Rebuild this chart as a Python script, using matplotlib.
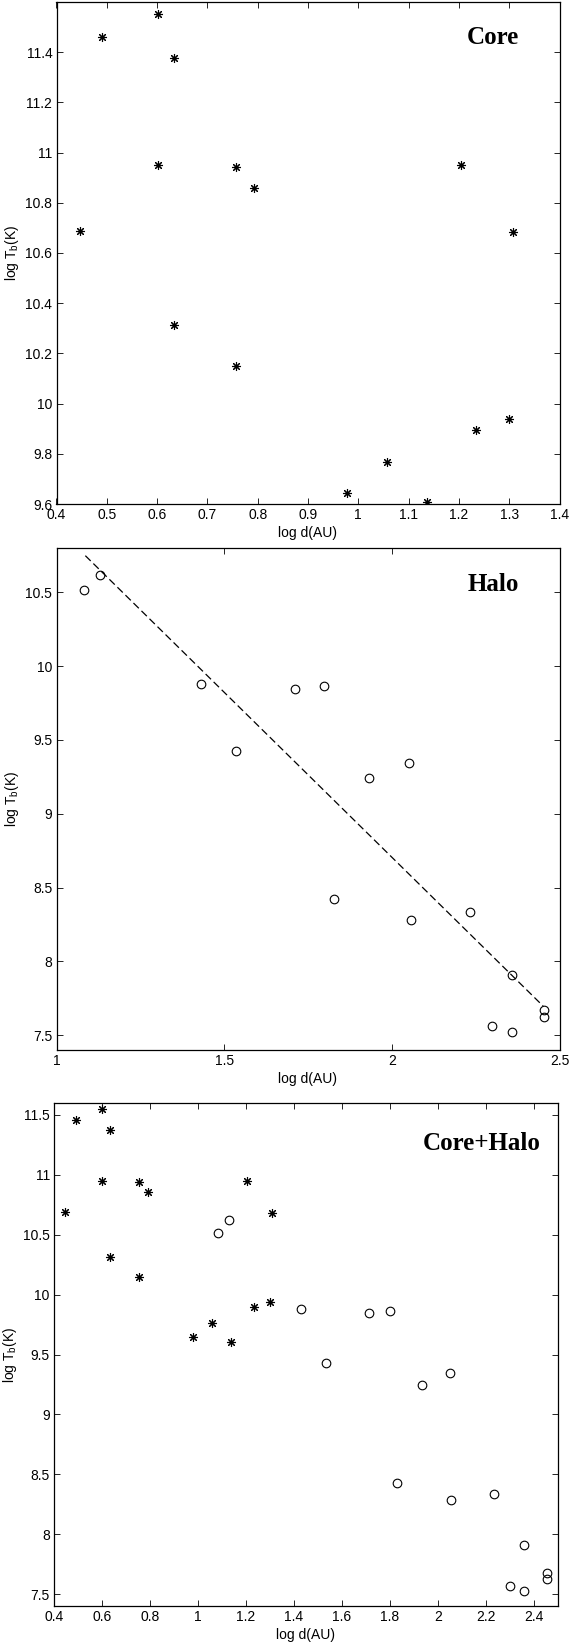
import matplotlib
matplotlib.use("Agg")
import matplotlib.pyplot as plt
import numpy as np

# ---------------- data ----------------
core_logd = [0.447, 0.491, 0.602, 0.633, 0.602, 0.756, 0.792, 1.204, 1.307,
             0.633, 0.756, 0.978, 1.057, 1.137, 1.234, 1.300]
core_logT = [10.688, 11.462, 11.553, 11.375, 10.951, 10.944, 10.858, 10.951, 10.683,
             10.314, 10.148, 9.642, 9.767, 9.607, 9.893, 9.937]

halo_logd = [1.083, 1.129, 1.431, 1.534, 1.711, 1.798, 1.933, 2.050, 1.829,
             2.056, 2.234, 2.300, 2.359, 2.359, 2.455, 2.455]
halo_logT = [10.518, 10.619, 9.876, 9.426, 9.847, 9.863, 9.243, 9.342, 8.426,
             8.283, 8.337, 7.564, 7.909, 7.523, 7.674, 7.625]

fit_logd = [1.086, 2.451]
fit_logT = [10.748, 7.698]

panel_titles = ["Core", "Halo", "Core+Halo"]
xlabel = "log d(AU)"
ylabel = r"log T$_\mathregular{b}$(K)"

core_xticks = [0.4, 0.5, 0.6, 0.7, 0.8, 0.9, 1.0, 1.1, 1.2, 1.3, 1.4]
core_yticks = [9.6, 9.8, 10.0, 10.2, 10.4, 10.6, 10.8, 11.0, 11.2, 11.4]
halo_xticks = [1.0, 1.5, 2.0, 2.5]
halo_yticks = [7.5, 8.0, 8.5, 9.0, 9.5, 10.0, 10.5]
both_xticks = [0.4, 0.6, 0.8, 1.0, 1.2, 1.4, 1.6, 1.8, 2.0, 2.2, 2.4]
both_yticks = [7.5, 8.0, 8.5, 9.0, 9.5, 10.0, 10.5, 11.0, 11.5]

# ---------------- style ----------------
plt.rcParams['font.family'] = ['Liberation Sans', 'DejaVu Sans']
plt.rcParams['mathtext.fontset'] = 'custom'
plt.rcParams['mathtext.rm'] = 'Liberation Sans'

W, H = 571, 1648
fig = plt.figure(figsize=(W / 100, H / 100), dpi=100)

def rect(left, right, top, bottom):
    return [left / W, (H - bottom) / H, (right - left) / W, (bottom - top) / H]

ax1 = fig.add_axes(rect(56.5, 559.5, 2, 504))
ax2 = fig.add_axes(rect(56.5, 559.5, 548, 1050))
ax3 = fig.add_axes(rect(54, 558, 1103, 1606))

AST = (8, 2, 0)
FS = 10

def fmt(v):
    s = ("%.1f" % v)
    if s.endswith(".0"):
        s = s[:-2]
    return s

def style(ax, xt, yt, xlim, ylim):
    ax.set_xlim(*xlim)
    ax.set_ylim(*ylim)
    ax.set_xticks(xt)
    ax.set_xticklabels([fmt(v) for v in xt])
    ax.set_yticks(yt)
    ax.set_yticklabels([fmt(v) for v in yt])
    ax.tick_params(direction='in', top=True, right=True, length=4, width=0.6,
                   labelsize=FS, pad=3, colors='black')
    for sp in ax.spines.values():
        sp.set_linewidth(0.9)
    ax.set_xlabel(xlabel, fontsize=FS, labelpad=2.5)
    ax.set_ylabel(ylabel, fontsize=FS, labelpad=3)

def title(ax, txt, xf, yf):
    ax.text(xf, yf, txt, transform=ax.transAxes, ha='right', va='center',
            fontsize=18, fontweight='bold', family=['Liberation Serif', 'DejaVu Serif'])

# Panel 1: Core
ax1.plot(core_logd, core_logT, linestyle='none', marker=AST, markersize=6.5,
         markeredgewidth=0.8, color='black')
style(ax1, core_xticks, core_yticks, (0.4, 1.4), (9.6, 11.6))
title(ax1, panel_titles[0], 0.92, 0.930)

# Panel 2: Halo
ax2.plot(halo_logd, halo_logT, linestyle='none', marker='o', markersize=6.2,
         markerfacecolor='none', markeredgecolor='black', markeredgewidth=0.8)
ax2.plot(fit_logd, fit_logT, color='black', linewidth=0.9, linestyle=(0, (6, 3)))
style(ax2, halo_xticks, halo_yticks, (1.0, 2.5), (7.4, 10.8))
title(ax2, panel_titles[1], 0.92, 0.928)

# Panel 3: Core+Halo
ax3.plot(core_logd, core_logT, linestyle='none', marker=AST, markersize=6.5,
         markeredgewidth=0.8, color='black')
ax3.plot(halo_logd, halo_logT, linestyle='none', marker='o', markersize=6.2,
         markerfacecolor='none', markeredgecolor='black', markeredgewidth=0.8)
style(ax3, both_xticks, both_yticks, (0.4, 2.5), (7.4, 11.6))
title(ax3, panel_titles[2], 0.965, 0.920)

fig.savefig("out.png", dpi=100)
